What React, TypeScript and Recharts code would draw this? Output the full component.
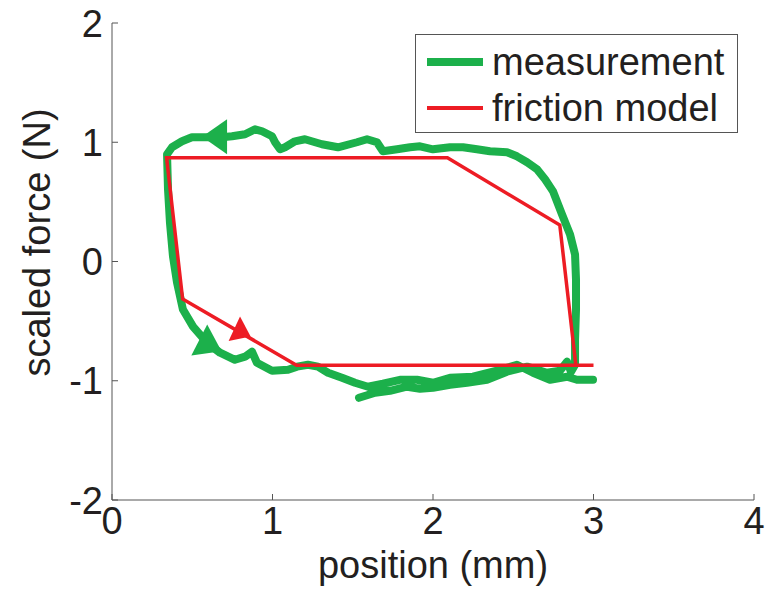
import { ComposedChart, Line, Scatter, XAxis, YAxis, Label } from 'recharts'

const GREEN = '#1cb04b'
const RED = '#ed1c24'
const AXIS = '#555'
const FONT = '"Liberation Sans", Arial, sans-serif'

const xTicks = [0, 1, 2, 3, 4]
const yTicks = [-2, -1, 0, 1, 2]

// measured hysteresis loop (position mm, force N), in drawing order
const measPos = [
  1.539, 1.639, 1.732, 1.838, 1.919, 2.0, 2.106, 2.212, 2.336, 2.461, 2.586, 2.71, 2.791, 2.835, 2.86, 2.885,
  2.885, 2.891, 2.891, 2.885, 2.854, 2.804, 2.748, 2.698, 2.648, 2.586, 2.523, 2.461, 2.355, 2.274, 2.187, 2.106,
  2.0, 1.919, 1.857, 1.776, 1.688, 1.651, 1.589, 1.526, 1.408, 1.308, 1.202, 1.14, 1.078, 1.047, 1.016, 0.997,
  0.935, 0.891, 0.829, 0.748, 0.685, 0.579, 0.498, 0.436, 0.374, 0.343,
  0.349, 0.361, 0.38, 0.405, 0.442, 0.505, 0.592, 0.673, 0.766, 0.829, 0.872, 0.903, 0.997, 1.097, 1.153, 1.221,
  1.283, 1.346, 1.433, 1.514, 1.595, 1.688, 1.794, 1.9, 2.0, 2.106, 2.249, 2.417, 2.523, 2.623, 2.729, 2.835,
  2.897, 2.997,
]
const measForce = [
  -1.143, -1.101, -1.084, -1.05, -1.067, -1.059, -1.034, -1.017, -0.992, -0.924, -0.882, -0.933, -0.916, -0.84, -0.924, -0.866,
  -0.655, -0.403, -0.151, 0.059, 0.227, 0.395, 0.588, 0.689, 0.773, 0.832, 0.882, 0.916, 0.924, 0.941, 0.958, 0.958,
  0.941, 0.966, 0.958, 0.941, 0.924, 1.0, 1.025, 1.0, 0.958, 0.983, 1.025, 1.008, 0.958, 0.941, 1.0, 1.05,
  1.092, 1.109, 1.067, 1.05, 1.042, 1.042, 1.042, 1.008, 0.958, 0.899,
  0.605, 0.328, 0.042, -0.176, -0.403, -0.546, -0.681, -0.765, -0.824, -0.798, -0.756, -0.849, -0.916, -0.908, -0.882, -0.866,
  -0.882, -0.933, -0.975, -1.017, -1.05, -1.025, -0.992, -0.992, -1.017, -0.975, -0.966, -0.908, -0.866, -0.933, -0.992, -0.966,
  -0.992, -0.992,
]

// friction model polygon
const modelPos = [2.89, 2.79, 2.09, 0.34, 0.44, 1.15, 3.0]
const modelForce = [-0.87, 0.306, 0.87, 0.87, -0.314, -0.87, -0.87]

// direction arrows (screen angle in degrees)
const greenArrowPos = [0.665, 0.59]
const greenArrowForce = [1.046, -0.69]
const greenArrowDir = [180, 27]
const redArrowPos = [0.796]
const redArrowForce = [-0.586]
const redArrowDir = [25]

const measData = measPos.map((x, i) => ({ x, y: measForce[i] }))
const modelData = modelPos.map((x, i) => ({ x, y: modelForce[i] }))
const greenArrows = greenArrowPos.map((x, i) => ({ x, y: greenArrowForce[i], dir: greenArrowDir[i] }))
const redArrows = redArrowPos.map((x, i) => ({ x, y: redArrowForce[i], dir: redArrowDir[i] }))

const legendItems = [
  { label: 'measurement', color: GREEN, width: 8 },
  { label: 'friction model', color: RED, width: 4 },
]

const TICK = 6
const fontSize = 38

function Arrow(props: any) {
  const { cx, cy, payload, len, wid, color } = props
  const a = (payload.dir * Math.PI) / 180
  const c = Math.cos(a)
  const s = Math.sin(a)
  const pts = [
    [(2 * len) / 3, 0],
    [-len / 3, wid / 2],
    [-len / 3, -wid / 2],
  ]
    .map(([u, v]) => `${cx + u * c - v * s},${cy + u * s + v * c}`)
    .join(' ')
  return <polygon points={pts} fill={color} />
}

function BottomTick(props: any) {
  const { x, y, payload } = props
  const axisY = y - 7
  return (
    <g>
      <line x1={x} x2={x} y1={axisY} y2={axisY - TICK} stroke={AXIS} />
      <text x={x} y={y} dy="0.72em" textAnchor="middle" fontSize={fontSize} fontFamily={FONT} fill="#231f20">
        {payload.value}
      </text>
    </g>
  )
}

function LeftTick(props: any) {
  const { x, y, payload } = props
  const axisX = x + 9
  return (
    <g>
      <line x1={axisX} x2={axisX + TICK} y1={y} y2={y} stroke={AXIS} />
      <text x={x} y={y} dy="0.36em" textAnchor="end" fontSize={fontSize} fontFamily={FONT} fill="#231f20">
        {payload.value}
      </text>
    </g>
  )
}

function TopTick(props: any) {
  const { x, y } = props
  return <line x1={x} x2={x} y1={y} y2={y + TICK} stroke={AXIS} />
}

function RightTick(props: any) {
  const { x, y } = props
  return <line x1={x} x2={x - TICK} y1={y} y2={y} stroke={AXIS} />
}

export default function App() {
  return (
    <div style={{ position: 'absolute', left: 0, top: 0, width: 765, height: 595, background: '#fff' }}>
      <ComposedChart width={765} height={595} margin={{ top: 23, right: 11, bottom: 35, left: 0 }}>
        <XAxis
          dataKey="x"
          type="number"
          domain={[0, 4]}
          ticks={xTicks}
          height={60}
          tickSize={0}
          tickMargin={7}
          tickLine={false}
          axisLine={{ stroke: AXIS }}
          tick={<BottomTick />}
          interval={0}
        >
          <Label
            content={(p: any) => {
              const vb = p.viewBox
              return (
                <text x={vb.x + vb.width / 2} y={vb.y + 78} textAnchor="middle" fontSize={fontSize} fontFamily={FONT} fill="#231f20">
                  position (mm)
                </text>
              )
            }}
          />
        </XAxis>
        <XAxis
          xAxisId="top"
          dataKey="x"
          type="number"
          orientation="top"
          domain={[0, 4]}
          ticks={xTicks}
          height={0}
          tickSize={0}
          tickMargin={0}
          tickLine={false}
          axisLine={{ stroke: AXIS }}
          tick={<TopTick />}
          interval={0}
        />
        <YAxis
          dataKey="y"
          type="number"
          domain={[-2, 2]}
          ticks={yTicks}
          width={112}
          tickSize={0}
          tickMargin={9}
          tickLine={false}
          axisLine={{ stroke: AXIS }}
          tick={<LeftTick />}
          interval={0}
        >
          <Label
            content={(p: any) => {
              const vb = p.viewBox
              const cx = 50
              const cy = vb.y + vb.height / 2 - 19
              return (
                <text
                  x={cx}
                  y={cy}
                  transform={`rotate(-90 ${cx} ${cy})`}
                  textAnchor="middle"
                  fontSize={fontSize}
                  fontFamily={FONT}
                  fill="#231f20"
                >
                  scaled force (N)
                </text>
              )
            }}
          />
        </YAxis>
        <YAxis
          yAxisId="right"
          dataKey="y"
          type="number"
          orientation="right"
          domain={[-2, 2]}
          ticks={yTicks}
          width={0}
          tickSize={0}
          tickMargin={0}
          tickLine={false}
          axisLine={{ stroke: AXIS }}
          tick={<RightTick />}
          interval={0}
        />
        <Line
          data={measData}
          dataKey="y"
          type="linear"
          stroke={GREEN}
          strokeWidth={8}
          strokeLinejoin="round"
          strokeLinecap="round"
          dot={false}
          activeDot={false}
          isAnimationActive={false}
        />
        <Scatter
          data={greenArrows}
          dataKey="y"
          isAnimationActive={false}
          shape={(p: any) => <Arrow {...p} len={25} wid={35} color={GREEN} />}
        />
        <Line
          data={modelData}
          dataKey="y"
          type="linear"
          stroke={RED}
          strokeWidth={3.5}
          dot={false}
          activeDot={false}
          isAnimationActive={false}
        />
        <Scatter
          data={redArrows}
          dataKey="y"
          isAnimationActive={false}
          shape={(p: any) => <Arrow {...p} len={18} wid={27} color={RED} />}
        />
      </ComposedChart>
      <div
        style={{
          position: 'absolute',
          left: 415,
          top: 34,
          width: 323,
          height: 99,
          boxSizing: 'border-box',
          border: `1px solid ${AXIS}`,
          background: '#fff',
          paddingTop: 4,
          fontFamily: FONT,
          fontSize,
          color: '#231f20',
        }}
      >
        {legendItems.map(it => (
          <div key={it.label} style={{ display: 'flex', alignItems: 'center', height: 46, lineHeight: '46px' }}>
            <span style={{ width: 56, height: it.width, background: it.color, marginLeft: 11, marginRight: 9, display: 'inline-block' }} />
            <span>{it.label}</span>
          </div>
        ))}
      </div>
    </div>
  )
}
